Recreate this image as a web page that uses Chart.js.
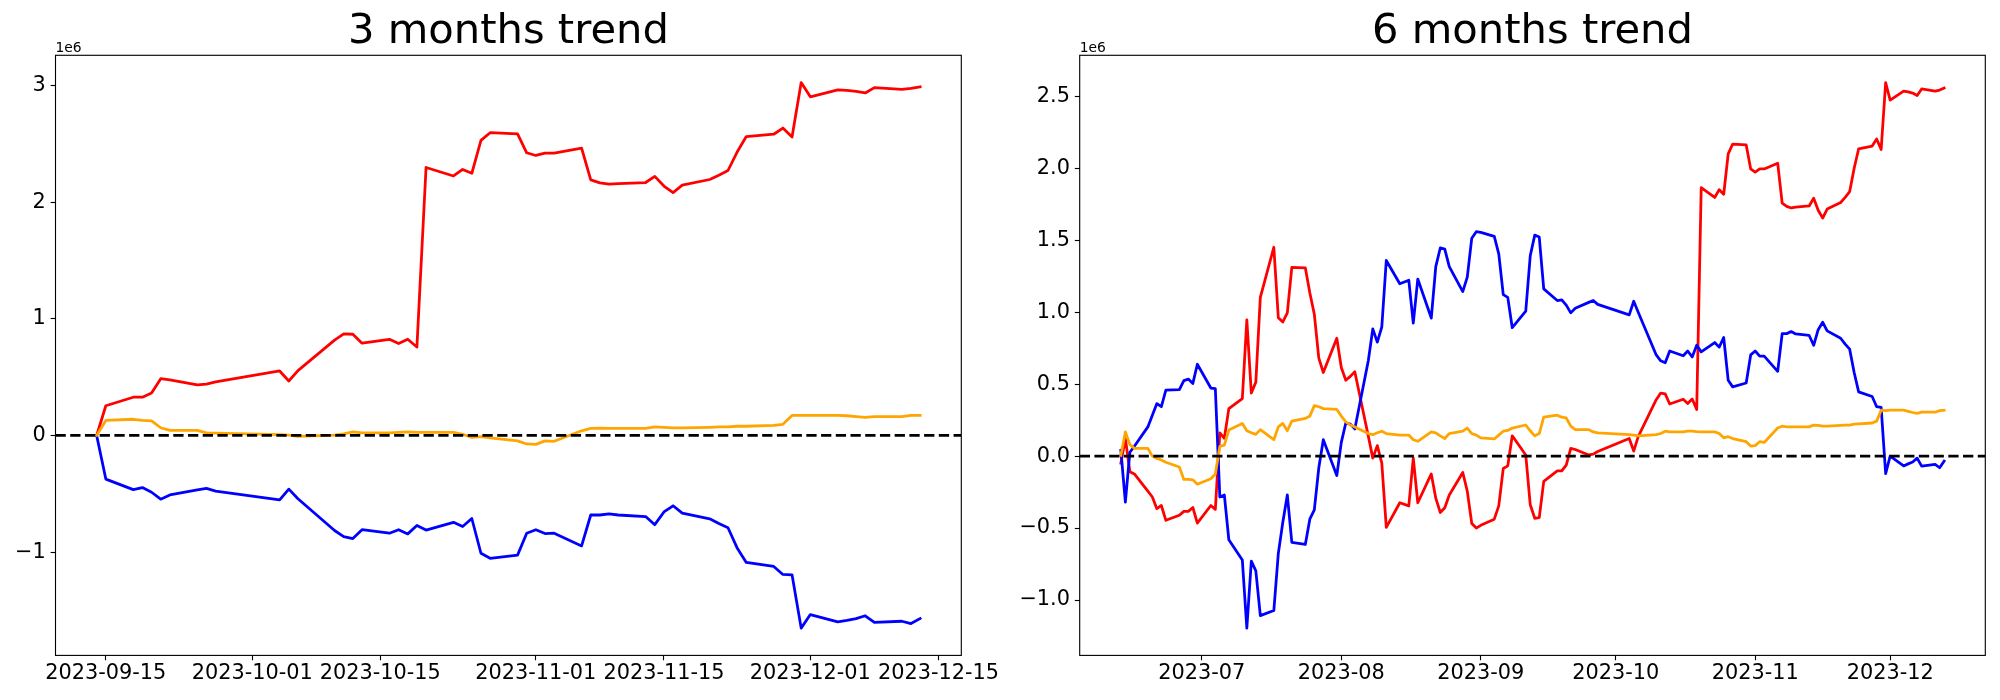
<!DOCTYPE html>
<html>
<head>
<meta charset="utf-8">
<script src="https://cdn.jsdelivr.net/npm/chart.js@4/dist/chart.umd.min.js"></script>
<style>
html,body{margin:0;padding:0;background:#fff;width:2000px;height:700px;overflow:hidden;}
canvas{position:absolute;top:0;}
#c1{left:0;width:1100px;height:700px;}
#c2{left:1000px;width:1000px;height:700px;}
</style>
</head>
<body>
<canvas id="c1" width="1100" height="700"></canvas>
<canvas id="c2" width="1000" height="700"></canvas>
<script>
// ---------------- DATA (values in units of 1e6) ----------------
const titles = ['3 months trend', '6 months trend'];

const dates3m = ['2023-09-14','2023-09-15','2023-09-18','2023-09-19','2023-09-20','2023-09-21','2023-09-22','2023-09-25','2023-09-26','2023-09-27',
'2023-10-04','2023-10-05','2023-10-06','2023-10-10','2023-10-11','2023-10-12','2023-10-13','2023-10-16','2023-10-17','2023-10-18','2023-10-19','2023-10-20','2023-10-23','2023-10-24','2023-10-25','2023-10-26','2023-10-27','2023-10-30','2023-10-31',
'2023-11-01','2023-11-02','2023-11-03','2023-11-06','2023-11-07','2023-11-08','2023-11-09','2023-11-10','2023-11-13','2023-11-14','2023-11-15','2023-11-16','2023-11-17','2023-11-20','2023-11-21','2023-11-22','2023-11-23','2023-11-24','2023-11-27','2023-11-28','2023-11-29','2023-11-30',
'2023-12-01','2023-12-04','2023-12-05','2023-12-06','2023-12-07','2023-12-08','2023-12-11','2023-12-12','2023-12-13'];
const red3m = [0,0.255,0.328,0.328,0.364,0.487,0.477,0.434,0.440,0.460,
0.553,0.467,0.556,0.818,0.871,0.868,0.791,0.825,0.788,0.825,0.758,2.298,2.225,2.281,2.248,2.530,2.596,2.586,2.424,
2.401,2.421,2.421,2.464,2.192,2.166,2.156,2.159,2.169,2.222,2.139,2.083,2.146,2.195,2.232,2.272,2.430,2.563,2.583,2.636,2.560,3.026,
2.904,2.964,2.960,2.950,2.937,2.983,2.967,2.977,2.990];
const blue3m = [0,-0.374,-0.464,-0.447,-0.487,-0.546,-0.510,-0.467,-0.454,-0.477,
-0.553,-0.460,-0.543,-0.815,-0.868,-0.884,-0.808,-0.838,-0.808,-0.844,-0.772,-0.811,-0.745,-0.781,-0.712,-1.010,-1.053,-1.026,-0.838,
-0.808,-0.841,-0.838,-0.947,-0.682,-0.682,-0.672,-0.682,-0.695,-0.765,-0.656,-0.603,-0.666,-0.715,-0.755,-0.791,-0.964,-1.089,-1.123,-1.192,-1.195,-1.652,
-1.536,-1.599,-1.586,-1.570,-1.546,-1.603,-1.593,-1.613,-1.570];
const orange3m = [0,0.129,0.139,0.129,0.126,0.066,0.043,0.043,0.023,0.020,
0.007,0.003,-0.007,0.003,0.013,0.030,0.023,0.023,0.026,0.030,0.026,0.026,0.026,0.010,-0.017,-0.010,-0.020,-0.046,-0.073,
-0.076,-0.046,-0.050,0.040,0.060,0.063,0.060,0.060,0.060,0.073,0.070,0.066,0.066,0.070,0.073,0.073,0.079,0.079,0.086,0.096,0.172,0.172,
0.172,0.172,0.169,0.162,0.156,0.162,0.162,0.172,0.172];
const xTickLabels3m = ['2023-09-15','2023-10-01','2023-10-15','2023-11-01','2023-11-15','2023-12-01','2023-12-15'];
const yTicks3m = [-1, 0, 1, 2, 3];

const dates6m = ['2023-06-13','2023-06-14','2023-06-15','2023-06-16','2023-06-19','2023-06-20','2023-06-21','2023-06-22','2023-06-23','2023-06-26','2023-06-27','2023-06-28','2023-06-29','2023-06-30',
'2023-07-03','2023-07-04','2023-07-05','2023-07-06','2023-07-07','2023-07-10','2023-07-11','2023-07-12','2023-07-13','2023-07-14','2023-07-17','2023-07-18','2023-07-19','2023-07-20','2023-07-21','2023-07-24','2023-07-25','2023-07-26','2023-07-27','2023-07-28','2023-07-31',
'2023-08-01','2023-08-02','2023-08-03','2023-08-04','2023-08-07','2023-08-08','2023-08-09','2023-08-10','2023-08-11','2023-08-14','2023-08-16','2023-08-17','2023-08-18','2023-08-21','2023-08-22','2023-08-23','2023-08-24','2023-08-25','2023-08-28','2023-08-29','2023-08-30','2023-08-31',
'2023-09-01','2023-09-04','2023-09-05','2023-09-06','2023-09-07','2023-09-08','2023-09-11','2023-09-12','2023-09-13','2023-09-14','2023-09-15','2023-09-18','2023-09-19','2023-09-20','2023-09-21','2023-09-22','2023-09-25','2023-09-26','2023-09-27',
'2023-10-04','2023-10-05','2023-10-06','2023-10-10','2023-10-11','2023-10-12','2023-10-13','2023-10-16','2023-10-17','2023-10-18','2023-10-19','2023-10-20','2023-10-23','2023-10-24','2023-10-25','2023-10-26','2023-10-27','2023-10-30','2023-10-31',
'2023-11-01','2023-11-02','2023-11-03','2023-11-06','2023-11-07','2023-11-08','2023-11-09','2023-11-10','2023-11-13','2023-11-14','2023-11-15','2023-11-16','2023-11-17','2023-11-20','2023-11-21','2023-11-22','2023-11-23','2023-11-24','2023-11-27','2023-11-28','2023-11-29','2023-11-30',
'2023-12-01','2023-12-04','2023-12-05','2023-12-06','2023-12-07','2023-12-08','2023-12-11','2023-12-12','2023-12-13'];
const red6m = [-0.049,0.122,-0.108,-0.124,-0.243,-0.284,-0.365,-0.343,-0.446,-0.411,-0.384,-0.384,-0.357,-0.465,
-0.343,-0.370,0.162,0.124,0.330,0.400,0.946,0.438,0.514,1.103,1.451,0.962,0.932,0.995,1.311,1.308,1.135,0.986,0.681,0.581,0.819,
0.616,0.527,0.554,0.586,0.140,-0.014,0.073,-0.049,-0.495,-0.324,-0.346,-0.014,-0.324,-0.124,-0.292,-0.392,-0.359,-0.270,-0.114,-0.243,-0.468,-0.500,
-0.481,-0.438,-0.346,-0.086,-0.068,0.141,0.008,-0.338,-0.432,-0.427,-0.176,-0.103,-0.103,-0.062,0.054,0.046,0.008,0.014,0.032,
0.122,0.035,0.135,0.392,0.438,0.432,0.362,0.395,0.365,0.397,0.324,1.865,1.797,1.851,1.819,2.100,2.168,2.162,1.995,
1.973,1.995,1.995,2.035,1.757,1.735,1.724,1.730,1.738,1.792,1.708,1.654,1.716,1.762,1.797,1.838,2.000,2.135,2.154,2.203,2.130,2.595,
2.473,2.535,2.530,2.522,2.505,2.551,2.535,2.543,2.557];
const blue6m = [0.041,-0.319,0.027,0.068,0.203,0.284,0.365,0.343,0.459,0.462,0.524,0.535,0.505,0.638,
0.473,0.468,-0.284,-0.270,-0.581,-0.722,-1.195,-0.730,-0.797,-1.108,-1.073,-0.676,-0.459,-0.270,-0.600,-0.614,-0.438,-0.373,-0.081,0.114,-0.135,
0.095,0.230,0.222,0.189,0.662,0.884,0.792,0.897,1.359,1.197,1.222,0.924,1.230,0.959,1.316,1.446,1.438,1.316,1.143,1.243,1.514,1.559,
1.554,1.527,1.405,1.122,1.103,0.892,1.008,1.392,1.535,1.522,1.162,1.081,1.086,1.049,0.995,1.027,1.068,1.081,1.054,
0.981,1.076,1.000,0.703,0.662,0.649,0.730,0.697,0.730,0.689,0.770,0.724,0.789,0.757,0.824,0.527,0.481,0.508,0.703,
0.730,0.695,0.695,0.589,0.851,0.851,0.865,0.849,0.838,0.770,0.878,0.930,0.870,0.819,0.778,0.743,0.581,0.446,0.414,0.343,0.338,-0.122,
0.000,-0.068,-0.054,-0.041,-0.014,-0.070,-0.057,-0.081,-0.035];
const orange6m = [0.005,0.168,0.081,0.054,0.054,0.000,-0.016,-0.027,-0.043,-0.076,-0.162,-0.162,-0.165,-0.195,
-0.157,-0.124,0.068,0.076,0.181,0.227,0.176,0.162,0.151,0.184,0.114,0.203,0.227,0.176,0.243,0.262,0.278,0.351,0.343,0.330,0.324,
0.278,0.238,0.216,0.203,0.157,0.149,0.162,0.173,0.157,0.146,0.146,0.114,0.103,0.168,0.162,0.141,0.122,0.157,0.173,0.195,0.157,0.146,
0.127,0.119,0.146,0.173,0.178,0.195,0.216,0.176,0.141,0.157,0.270,0.284,0.270,0.265,0.208,0.184,0.184,0.168,0.162,
0.149,0.146,0.141,0.149,0.157,0.173,0.168,0.168,0.173,0.173,0.170,0.168,0.168,0.157,0.127,0.135,0.122,0.100,0.070,
0.073,0.100,0.095,0.195,0.208,0.203,0.203,0.203,0.203,0.216,0.214,0.208,0.208,0.214,0.216,0.216,0.222,0.224,0.230,0.243,0.319,0.316,
0.319,0.319,0.311,0.303,0.297,0.305,0.305,0.316,0.319];
const xTickLabels6m = ['2023-07','2023-08','2023-09','2023-10','2023-11','2023-12'];
const yTicks6m = [-1.0, -0.5, 0.0, 0.5, 1.0, 1.5, 2.0, 2.5];
const offsetLabel = '1e6';

// ---------------- STYLE / LAYOUT ----------------
const FONT = 'DejaVu Sans';
const PT = 100 / 72;
const LW = 2 * PT;

function dayNum(s) {
  const p = s.split('-').map(Number);
  return Date.UTC(p[0], p[1] - 1, p[2] || 1) / 864e5;
}
const minus = s => s.replace('-', '\u2212');

function makeChart(id, o) {
  const xs = o.dates.map(dayNum);
  const xmin0 = Math.min(...xs), xmax0 = Math.max(...xs);
  const allY = o.series.flatMap(s => s.data);
  const ymin0 = Math.min(...allY), ymax0 = Math.max(...allY);
  const mx = 0.05 * (xmax0 - xmin0), my = 0.05 * (ymax0 - ymin0);
  const xTickVals = o.xTickLabels.map(dayNum);

  const decor = {
    id: 'decor',
    afterDatasetsDraw(chart) {
      const { ctx, chartArea: a, scales: { y } } = chart;
      const y0 = y.getPixelForValue(0);
      ctx.save();
      ctx.beginPath(); ctx.rect(a.left, a.top, a.right - a.left, a.bottom - a.top); ctx.clip();
      ctx.strokeStyle = '#000'; ctx.lineWidth = LW; ctx.lineCap = 'butt';
      ctx.setLineDash([3.7 * LW, 1.6 * LW]);
      ctx.beginPath(); ctx.moveTo(a.left, y0); ctx.lineTo(a.right, y0); ctx.stroke();
      ctx.restore();
    },
    afterDraw(chart) {
      const { ctx, chartArea: a } = chart;
      ctx.save();
      ctx.strokeStyle = '#000'; ctx.lineWidth = 0.8 * PT; ctx.setLineDash([]);
      ctx.strokeRect(a.left, a.top, a.right - a.left, a.bottom - a.top);
      ctx.fillStyle = '#000';
      ctx.font = (10 * PT) + 'px "' + FONT + '"';
      ctx.textAlign = 'left'; ctx.textBaseline = 'alphabetic';
      ctx.fillText(offsetLabel, a.left, a.top - 3.5);
      ctx.restore();
    }
  };

  return new Chart(document.getElementById(id), {
    type: 'line',
    data: {
      datasets: o.series.map(s => ({
        data: xs.map((x, i) => ({ x: x, y: s.data[i] })),
        borderColor: s.color,
        borderWidth: LW,
        pointRadius: 0,
        tension: 0,
        fill: false,
        borderJoinStyle: 'round',
        borderCapStyle: 'square'
      }))
    },
    options: {
      responsive: false,
      animation: false,
      devicePixelRatio: 1,
      events: [],
      layout: { padding: { left: 0, right: o.padRight, top: 0, bottom: 0 } },
      plugins: {
        legend: { display: false },
        tooltip: { enabled: false },
        title: {
          display: true, text: o.title, fullSize: false, color: '#000',
          font: { family: FONT, size: 30 * PT, weight: 'normal', lineHeight: 1 },
          padding: { top: 11.8, bottom: 1.83 }
        }
      },
      scales: {
        x: {
          type: 'linear',
          min: xmin0 - mx, max: xmax0 + mx,
          afterBuildTicks: s => { s.ticks = xTickVals.map(v => ({ value: v })); },
          afterFit: s => { s.height = 44.6; },
          ticks: {
            autoSkip: false, maxRotation: 0, minRotation: 0, color: '#000', padding: 0.5,
            font: { family: FONT, size: 15 * PT, lineHeight: 1.2 },
            callback: (v, i) => o.xTickLabels[i]
          },
          grid: { display: true, drawOnChartArea: false, drawTicks: true, tickLength: 3.5 * PT, tickWidth: 0.8 * PT, tickColor: '#000' },
          border: { display: false }
        },
        y: {
          type: 'linear',
          min: ymin0 - my, max: ymax0 + my,
          afterBuildTicks: s => { s.ticks = o.yTicks.map(v => ({ value: v })); },
          afterFit: s => { s.width = o.yAxisWidth; },
          ticks: {
            color: '#000', padding: 3.5 * PT,
            font: { family: FONT, size: 15 * PT, lineHeight: 1.2 },
            callback: v => minus(o.yFmt(v))
          },
          grid: { display: true, drawOnChartArea: false, drawTicks: true, tickLength: 3.5 * PT, tickWidth: 0.8 * PT, tickColor: '#000' },
          border: { display: false }
        }
      }
    },
    plugins: [decor]
  });
}

makeChart('c1', {
  title: titles[0], dates: dates3m,
  series: [
    { data: orange3m, color: '#ffa500' },
    { data: blue3m, color: '#0000ff' },
    { data: red3m, color: '#ff0000' }
  ],
  xTickLabels: xTickLabels3m, yTicks: yTicks3m,
  yFmt: v => String(v),
  yAxisWidth: 55.5, padRight: 1100 - 961.3
});

makeChart('c2', {
  title: titles[1], dates: dates6m,
  series: [
    { data: orange6m, color: '#ffa500' },
    { data: blue6m, color: '#0000ff' },
    { data: red6m, color: '#ff0000' }
  ],
  xTickLabels: xTickLabels6m, yTicks: yTicks6m,
  yFmt: v => v.toFixed(1),
  yAxisWidth: 79.7, padRight: 1000 - 985.3
});
</script>
</body>
</html>
